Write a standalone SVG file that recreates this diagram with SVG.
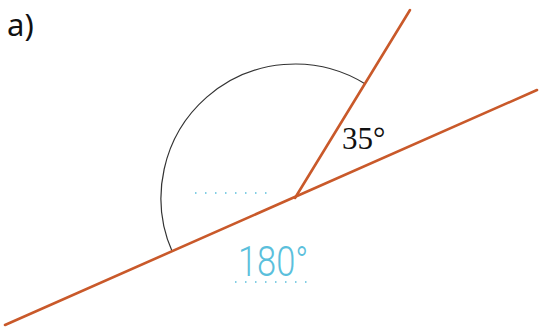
<svg xmlns="http://www.w3.org/2000/svg" width="542" height="329" viewBox="0 0 542 329">
<style>
.ln{stroke:#c9592a;stroke-width:2.6;fill:none;stroke-linecap:round}
.arc{stroke:#333;stroke-width:1.2;fill:none}
.dot{stroke:#5bbfdc;stroke-width:1.5;stroke-dasharray:1.5 8.5;fill:none}
.serif{font-family:"Liberation Serif","Times New Roman",serif}
</style>
<rect width="542" height="329" fill="#fff"/>
<text x="7" y="36" font-family="'Noto Sans', sans-serif" font-size="31" fill="#111">a)</text>
<g id="angle-arc">
<path class="arc" d="M364.9,83.7 A134,134 0 0 0 172.4,252.1"/>
</g>
<g id="connectors">
<line class="ln" x1="5" y1="325" x2="537" y2="90"/>
<line class="ln" x1="295" y1="198" x2="410" y2="10"/>
</g>
<g id="label-35">
<text class="serif" x="342" y="149" font-size="31" fill="#111">35°</text>
</g>
<g id="answer">
<line class="dot" x1="195" y1="193" x2="270" y2="193"/>
<text x="0" y="0" transform="translate(238,276) scale(0.82,1)" font-family="Roboto, sans-serif" font-weight="300" font-size="42" fill="#5bbfdc">180°</text>
<line class="dot" x1="235" y1="282" x2="310" y2="282"/>
</g>
</svg>
